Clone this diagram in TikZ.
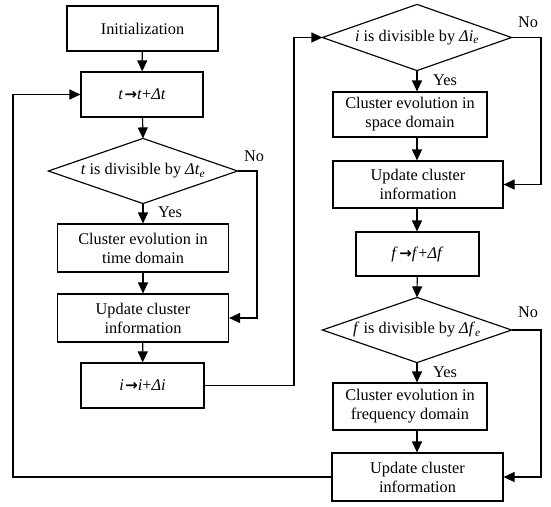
\documentclass[tikz,border=0pt]{standalone}
\usepackage{fontspec}
\setmainfont{Liberation Serif}
\newfontfamily\arrowfont{DejaVu Sans}
\usetikzlibrary{arrows.meta,calc}
\newcommand{\incr}{\kern1.5pt{\arrowfont\bfseries\fontsize{15}{15}\selectfont →}}
\begin{document}
\begin{tikzpicture}[x=1pt,y=-1pt,
  font=\fontsize{16.3}{19}\selectfont,
  every path/.style={line width=1.15pt},
  box/.style={draw, line width=1.15pt, align=center, inner sep=0pt},
  dia/.style={align=center, inner sep=0pt},
  arr/.style={-{Triangle[length=11pt,width=10pt]}, line width=1.15pt},
  lbl/.style={inner sep=0pt}]
\useasboundingbox (0,0) rectangle (551,506);

% left column
\node[box, minimum width=151pt, minimum height=45pt] (init) at (142.5,28.5) {Initialization};
\node[box, minimum width=122pt, minimum height=45pt] (tbox) at (142,94.5) {\textit{t}\incr\textit{t}+\textit{Δt}};
\node[dia, minimum width=188pt, minimum height=64pt] (d1) at (143,171) {\textit{t} is divisible by \textit{Δt}\textsubscript{\textit{e}}};
\draw (d1.north) -- (d1.east) -- (d1.south) -- (d1.west) -- cycle;
\node[box, minimum width=171pt, minimum height=48pt] (c1) at (143,248) {Cluster evolution in\\time domain};
\node[box, minimum width=171pt, minimum height=48pt] (u1) at (143,318) {Update cluster\\information};
\node[box, minimum width=123pt, minimum height=45pt] (ibox) at (142.5,385.5) {\textit{i}\incr\textit{i}+\textit{Δi}};

% right column
\node[dia, minimum width=188pt, minimum height=65pt] (d2) at (417,37.5) {\textit{i} is divisible by \textit{Δi}\textsubscript{\textit{e}}};
\draw (d2.north) -- (d2.east) -- (d2.south) -- (d2.west) -- cycle;
\node[box, minimum width=154pt, minimum height=45pt] (c2) at (410,114.5) {Cluster evolution in\\space domain};
\node[box, minimum width=170pt, minimum height=47pt] (u2) at (418,184.5) {Update cluster\\information};
\node[box, minimum width=123pt, minimum height=44pt] (fbox) at (417.5,254) {\textit{f}\incr\textit{f}+\textit{Δf}};
\node[dia, minimum width=188pt, minimum height=64pt] (d3) at (417,330) {\textit{f} is divisible by \textit{Δf}\textsubscript{\textit{e}}};
\draw (d3.north) -- (d3.east) -- (d3.south) -- (d3.west) -- cycle;
\node[box, minimum width=154pt, minimum height=47pt] (c3) at (410,406.5) {Cluster evolution in\\frequency domain};
\node[box, minimum width=171pt, minimum height=48pt] (u3) at (417.5,477) {Update cluster\\information};

% labels
\node[lbl] (no1) at (254,156) {No};
\node[lbl] (yes1) at (170,212) {Yes};
\node[lbl] (no2) at (528,22) {No};
\node[lbl] (yes2) at (445,80) {Yes};
\node[lbl] (no3) at (528,312) {No};
\node[lbl] (yes3) at (445,372) {Yes};

% routing coordinates
\coordinate (nl) at (257,0);
\coordinate (nr) at (541,0);
\coordinate (mid) at (294,0);
\coordinate (lp) at (13,0);

% left column arrows
\draw[arr] (init) -- (tbox);
\draw[arr] (tbox) -- (d1.north);
\draw[arr] (d1.south) -- (c1);
\draw[arr] (c1) -- (u1);
\draw[arr] (u1) -- (ibox);
\draw[arr] (d1.east) -- (d1.east -| nl) |- (u1.east);

% cross
\draw[arr] (ibox.east) -- (ibox.east -| mid) |- (d2.west);

% right column arrows
\draw[arr] (d2.south) -- (d2.south |- c2.north);
\draw[arr] (d2.south |- c2.south) -- (d2.south |- u2.north);
\draw[arr] (d2.south |- u2.south) -- (d2.south |- fbox.north);
\draw[arr] (fbox) -- (d3.north);
\draw[arr] (d3.south) -- (d3.south |- c3.north);
\draw[arr] (d3.south |- c3.south) -- (d3.south |- u3.north);
\draw[arr] (d2.east) -- (d2.east -| nr) |- (u2.east);
\draw[arr] (d3.east) -- (d3.east -| nr) |- (u3.east);

% loop back
\draw[arr] (u3.west) -- (u3.west -| lp) |- (tbox.west);
\end{tikzpicture}
\end{document}
